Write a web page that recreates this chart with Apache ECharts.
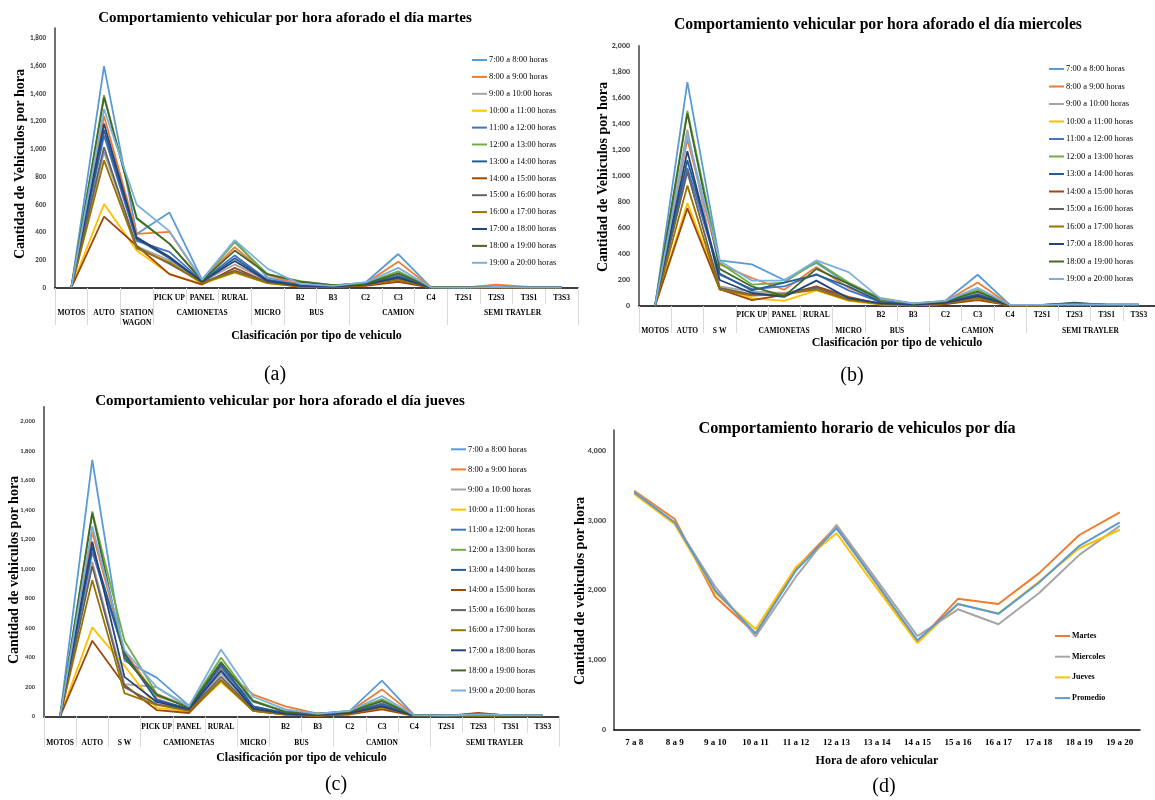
<!DOCTYPE html>
<html>
<head>
<meta charset="utf-8">
<script src="https://cdn.jsdelivr.net/npm/echarts@6/dist/echarts.min.js"></script>
<style>
html, body { margin: 0; padding: 0; background: #fff; }
#main { width: 1155px; height: 800px; }
</style>
</head>
<body>
<div id="main"></div>
<script>
// categorias del eje x (tipo de vehiculo)
var categorias = ['MOTOS', 'AUTO', 'STATION WAGON', 'PICK UP', 'PANEL', 'RURAL', 'MICRO', 'B2', 'B3',
    'C2', 'C3', 'C4', 'T2S1', 'T2S3', 'T3S1', 'T3S3'];
// primera fila de etiquetas (vacia donde el grupo tiene un solo tipo)
var subEtiquetas = ['', '', '', 'PICK UP', 'PANEL', 'RURAL', '', 'B2', 'B3',
    'C2', 'C3', 'C4', 'T2S1', 'T2S3', 'T3S1', 'T3S3'];
var gruposMartes = ['MOTOS', 'AUTO', 'STATION\nWAGON', 'CAMIONETAS', 'MICRO', 'BUS', 'CAMION', 'SEMI TRAYLER'];
var grupos = ['MOTOS', 'AUTO', 'S W', 'CAMIONETAS', 'MICRO', 'BUS', 'CAMION', 'SEMI TRAYLER'];
var grupoCentro = [0.5, 1.5, 2.5, 4.5, 6.5, 8, 10.5, 14];
var grupoLimites = [0, 1, 2, 3, 6, 7, 9, 12, 16];

var horas = ['7:00 a 8:00 horas', '8:00 a 9:00 horas', '9:00 a 10:00 horas', '10:00 a 11:00 horas',
    '11:00 a 12:00 horas', '12:00 a 13:00 horas', '13:00 a 14:00 horas', '14:00 a 15:00 horas',
    '15:00 a 16:00 horas', '16:00 a 17:00 horas', '17:00 a 18:00 horas', '18:00 a 19:00 horas',
    '19:00 a 20:00 horas'];
var coloresHora = ['#5B9BD5', '#ED7D31', '#A5A5A5', '#FFC000', '#4472C4', '#70AD47', '#255E91',
    '#9E480E', '#636363', '#997300', '#264478', '#43682B', '#7CAFDD'];

// una fila por tipo de vehiculo, 13 valores (una por hora)
var martes = [
    [5, 4, 3, 2, 3, 4, 3, 2, 3, 2, 3, 4, 5],                                  // MOTOS
    [1600, 1240, 980, 605, 1100, 1390, 1140, 515, 1015, 920, 1185, 1375, 1290], // AUTO
    [390, 390, 300, 270, 340, 500, 355, 305, 295, 285, 365, 505, 600],        // STATION WAGON
    [545, 405, 200, 100, 260, 320, 215, 100, 175, 185, 225, 320, 410],        // PICK UP
    [60, 55, 45, 30, 50, 55, 45, 25, 40, 35, 45, 55, 60],                     // PANEL
    [340, 295, 170, 110, 235, 330, 215, 145, 125, 115, 195, 270, 345],        // RURAL
    [75, 95, 50, 35, 60, 100, 55, 40, 45, 35, 50, 100, 140],                  // MICRO
    [25, 25, 20, 10, 20, 50, 20, 10, 15, 10, 15, 45, 30],                     // B2
    [15, 15, 12, 8, 12, 20, 12, 8, 10, 8, 10, 20, 15],                        // B3
    [40, 35, 30, 20, 30, 35, 30, 15, 25, 20, 25, 30, 40],                     // C2
    [245, 190, 100, 60, 90, 120, 80, 45, 70, 60, 75, 105, 145],               // C3
    [5, 5, 3, 2, 3, 5, 3, 2, 3, 2, 3, 5, 5],                                  // C4
    [3, 3, 2, 2, 2, 3, 2, 2, 2, 2, 2, 3, 3],                                  // T2S1
    [8, 25, 5, 3, 5, 8, 5, 3, 5, 3, 5, 10, 8],                                // T2S3
    [5, 8, 5, 3, 5, 6, 5, 3, 4, 3, 5, 6, 5],                                  // T3S1
    [5, 5, 4, 3, 4, 5, 4, 3, 4, 3, 4, 5, 5]                                   // T3S3
];
var miercoles = [
    [5, 4, 3, 2, 3, 4, 3, 2, 3, 2, 3, 4, 5],
    [1720, 1280, 1355, 790, 1060, 1500, 1120, 750, 1030, 925, 1190, 1480, 1310],
    [350, 320, 150, 145, 240, 330, 250, 130, 140, 125, 200, 285, 345],
    [320, 215, 110, 60, 130, 165, 120, 45, 90, 80, 100, 150, 195],
    [200, 125, 100, 40, 150, 180, 180, 85, 90, 90, 70, 75, 195],
    [330, 300, 145, 120, 245, 340, 240, 150, 140, 125, 195, 285, 350],
    [170, 140, 60, 40, 120, 180, 150, 70, 50, 45, 60, 170, 260],
    [40, 35, 20, 10, 30, 60, 30, 15, 20, 15, 20, 50, 55],
    [15, 12, 10, 5, 10, 20, 12, 8, 10, 8, 10, 18, 20],
    [40, 35, 25, 15, 30, 40, 30, 15, 25, 20, 25, 35, 40],
    [240, 180, 100, 55, 90, 125, 85, 45, 70, 60, 75, 110, 140],
    [8, 8, 6, 5, 6, 8, 6, 5, 6, 5, 6, 8, 8],
    [8, 8, 6, 5, 6, 8, 6, 5, 6, 5, 6, 8, 8],
    [15, 18, 10, 8, 12, 15, 25, 12, 10, 8, 10, 20, 12],
    [10, 10, 8, 6, 8, 10, 8, 6, 8, 6, 8, 10, 10],
    [10, 10, 8, 6, 8, 10, 8, 6, 8, 6, 8, 10, 10]
];
var jueves = [
    [5, 4, 3, 2, 3, 4, 3, 2, 3, 2, 3, 4, 5],
    [1740, 1250, 1050, 605, 1115, 1390, 1150, 515, 1020, 925, 1185, 1380, 1290],
    [380, 440, 220, 345, 420, 515, 430, 215, 200, 160, 270, 400, 450],
    [265, 140, 200, 60, 120, 155, 110, 45, 85, 80, 100, 150, 200],
    [75, 70, 60, 35, 50, 65, 55, 25, 45, 40, 50, 60, 70],
    [320, 330, 290, 235, 340, 400, 355, 250, 270, 245, 310, 370, 455],
    [100, 150, 70, 40, 60, 110, 70, 40, 50, 40, 55, 105, 135],
    [40, 70, 25, 15, 25, 35, 25, 15, 20, 15, 20, 30, 50],
    [15, 20, 12, 8, 12, 20, 12, 8, 10, 8, 10, 20, 20],
    [40, 35, 30, 20, 30, 40, 30, 15, 25, 20, 25, 35, 40],
    [245, 185, 110, 60, 90, 120, 80, 50, 75, 65, 70, 105, 140],
    [10, 10, 8, 6, 8, 10, 8, 6, 8, 6, 8, 10, 10],
    [8, 8, 6, 5, 6, 8, 6, 5, 6, 5, 6, 8, 8],
    [15, 15, 12, 8, 12, 15, 12, 25, 10, 8, 10, 15, 15],
    [10, 10, 8, 6, 8, 10, 8, 6, 8, 6, 8, 10, 10],
    [10, 10, 8, 6, 8, 10, 8, 6, 8, 6, 8, 10, 10]
];

// grafico (d): total por hora de cada dia
var horasDia = ['7 a 8', '8 a 9', '9 a 10', '10 a 11', '11 a 12', '12 a 13', '13 a 14',
    '14 a 15', '15 a 16', '16 a 17', '17 a 18', '18 a 19', '19 a 20'];
var totMartes = [3430, 3025, 1910, 1380, 2320, 2920, 2090, 1260, 1880, 1805, 2245, 2795, 3120];
var totMiercoles = [3415, 2975, 2055, 1340, 2200, 2940, 2145, 1345, 1730, 1515, 1960, 2510, 2925];
var totJueves = [3385, 2950, 1970, 1445, 2340, 2820, 2030, 1245, 1805, 1670, 2125, 2605, 2870];
var totPromedio = [3405, 2975, 2000, 1385, 2290, 2890, 2090, 1285, 1805, 1665, 2110, 2640, 2975];

var serif = "'Times New Roman', 'Liberation Serif', serif";
var sans = "Calibri, 'Liberation Sans', Arial, sans-serif";

var option = {
    animation: false,
    backgroundColor: '#fff',
    grid: [], xAxis: [], yAxis: [], series: [], legend: [], graphic: []
};

function texto(t, x, y, size, weight, rot) {
    option.graphic.push({
        type: 'text', x: x, y: y, rotation: rot || 0,
        style: { text: t, align: 'center', verticalAlign: 'middle', fill: '#000',
            font: (weight || 'bold') + ' ' + size + 'px ' + serif }
    });
}

// grafico por hora de un dia
function panelDia(datos, c) {
    var g = option.grid.length;
    option.grid.push({ left: c.left, top: c.top, width: c.width, height: c.height });
    var xi = option.xAxis.length;
    option.xAxis.push({
        type: 'category', gridIndex: g, position: 'bottom', data: categorias, boundaryGap: true,
        axisLine: { lineStyle: { color: '#000', width: 1.5 } },
        axisTick: { show: true, interval: 0, length: c.tickCorto, lineStyle: { color: '#d9d9d9' } },
        axisLabel: {
            interval: 0, margin: c.margen1, color: '#000', fontFamily: serif, fontWeight: 'bold', fontSize: 7.5,
            formatter: function (v, i) { return subEtiquetas[i]; }
        },
        name: 'Clasificación por tipo de vehiculo', nameLocation: 'middle', nameGap: c.gapX,
        nameTextStyle: { fontFamily: serif, fontWeight: 'bold', fontSize: 12, color: '#000' }
    });
    option.xAxis.push({
        type: 'value', gridIndex: g, position: 'bottom', min: 0, max: 16,
        axisLine: { show: false }, splitLine: { show: false },
        axisTick: { show: true, customValues: grupoLimites, length: c.tickLargo, lineStyle: { color: '#d9d9d9' } },
        axisLabel: {
            customValues: grupoCentro, margin: c.margen2, color: '#000', fontFamily: serif,
            fontWeight: 'bold', fontSize: 7.5, lineHeight: 10,
            formatter: function (v) {
                var k = grupoCentro.indexOf(v);
                return k < 0 ? '' : c.grupos[k];
            }
        }
    });
    var yi = option.yAxis.length;
    option.yAxis.push({
        type: 'value', gridIndex: g, min: 0, max: c.max, interval: 200,
        axisLine: { show: true, lineStyle: { color: '#404040', width: 1.5 } },
        axisTick: { show: false }, splitLine: { show: false },
        axisLabel: {
            margin: 9, color: '#404040', fontFamily: sans, fontWeight: 'bold', fontSize: c.fy,
            formatter: function (v) { return v % 200 ? '' : v.toLocaleString('en-US'); }
        }
    });
    horas.forEach(function (h, k) {
        option.series.push({
            name: h, type: 'line', xAxisIndex: xi, yAxisIndex: yi, symbol: 'none',
            color: coloresHora[k], lineStyle: { width: 1.8 },
            data: datos.map(function (fila) { return fila[k]; })
        });
    });
    option.legend.push({
        data: horas, orient: 'vertical', left: c.legLeft, top: c.legTop, icon: 'rect',
        itemWidth: 15, itemHeight: 2, itemGap: c.legGap, padding: 0,
        textStyle: { fontFamily: serif, fontSize: 8.5, lineHeight: 10, color: '#000', padding: [0, 0, 0, -3] }
    });
    texto(c.titulo, c.tx, c.ty, c.ft);
    texto(c.nombreY, c.nx, c.ny, 14, 'bold', Math.PI / 2);
    texto(c.letra, c.lx, c.ly, 20, 'normal');
}

panelDia(martes, {
    left: 55, top: 28, width: 523, height: 260, max: 1875, fy: 7,
    tickCorto: 16, tickLargo: 37, margen1: 6, margen2: 20, gapX: 42,
    grupos: gruposMartes, nombreY: 'Cantidad de Vehiculos por hora', nx: 20, ny: 164,
    legLeft: 472, legTop: 55, legGap: 6.9,
    titulo: 'Comportamiento vehicular por hora aforado el día martes', tx: 285, ty: 18, ft: 15,
    letra: '(a)', lx: 275, ly: 375
});
panelDia(miercoles, {
    left: 639, top: 45.7, width: 522, height: 260.3, max: 2000, fy: 8,
    tickCorto: 15, tickLargo: 27, margen1: 5, margen2: 20, gapX: 31,
    grupos: grupos, nombreY: 'Cantidad de Vehiculos por hora', nx: 603, ny: 177,
    legLeft: 1049, legTop: 64, legGap: 7.5,
    titulo: 'Comportamiento vehicular por hora aforado el día miercoles', tx: 878, ty: 25, ft: 15.7,
    letra: '(b)', lx: 852, ly: 376
});
panelDia(jueves, {
    left: 44, top: 406.7, width: 515, height: 310, max: 2100, fy: 6.5,
    tickCorto: 16, tickLargo: 30, margen1: 6, margen2: 21, gapX: 35,
    grupos: grupos, nombreY: 'Cantidad de vehiculos por hora', nx: 14, ny: 570,
    legLeft: 451, legTop: 444.3, legGap: 10.1,
    titulo: 'Comportamiento vehicular por hora aforado el día jueves', tx: 280, ty: 401, ft: 15,
    letra: '(c)', lx: 336, ly: 785
});

// grafico (d)
option.grid.push({ left: 614, top: 430, width: 526, height: 300 });
option.xAxis.push({
    type: 'category', gridIndex: 3, data: horasDia, boundaryGap: true,
    axisLine: { lineStyle: { color: '#000', width: 1.5 } }, axisTick: { show: false },
    axisLabel: { interval: 0, margin: 8, color: '#000', fontFamily: serif, fontWeight: 'bold', fontSize: 9 },
    name: 'Hora de aforo vehicular', nameLocation: 'middle', nameGap: 25,
    nameTextStyle: { fontFamily: serif, fontWeight: 'bold', fontSize: 12, color: '#000' }
});
option.yAxis.push({
    type: 'value', gridIndex: 3, min: 0, max: 4300, interval: 1000,
    axisLine: { show: true, lineStyle: { color: '#404040', width: 1.5 } },
    axisTick: { show: false }, splitLine: { show: false },
    axisLabel: {
        margin: 8, color: '#404040', fontFamily: sans, fontWeight: 'bold', fontSize: 8,
        formatter: function (v) { return v % 1000 ? '' : v.toLocaleString('en-US'); }
    }
});
var dias = [['Martes', totMartes, '#ED7D31'], ['Miercoles', totMiercoles, '#A5A5A5'],
    ['Jueves', totJueves, '#FFC000'], ['Promedio', totPromedio, '#5B9BD5']];
dias.forEach(function (d) {
    option.series.push({
        name: d[0], type: 'line', xAxisIndex: option.xAxis.length - 1, yAxisIndex: 3,
        symbol: 'none', color: d[2], lineStyle: { width: 2 }, data: d[1]
    });
});
option.legend.push({
    data: dias.map(function (d) { return d[0]; }), orient: 'vertical', left: 1055, top: 631, icon: 'rect',
    itemWidth: 15, itemHeight: 2, itemGap: 10.7, padding: 0,
    textStyle: { fontFamily: serif, fontWeight: 'bold', fontSize: 8, lineHeight: 10, color: '#000', padding: [0, 0, 0, -3] }
});
texto('Comportamiento horario de vehiculos por día', 857, 429, 16.2);
texto('Cantidad de vehiculos por hora', 580, 591, 14, 'bold', Math.PI / 2);
texto('(d)', 884, 787, 20, 'normal');

var chart = echarts.init(document.getElementById('main'));
chart.setOption(option);
</script>
</body>
</html>
